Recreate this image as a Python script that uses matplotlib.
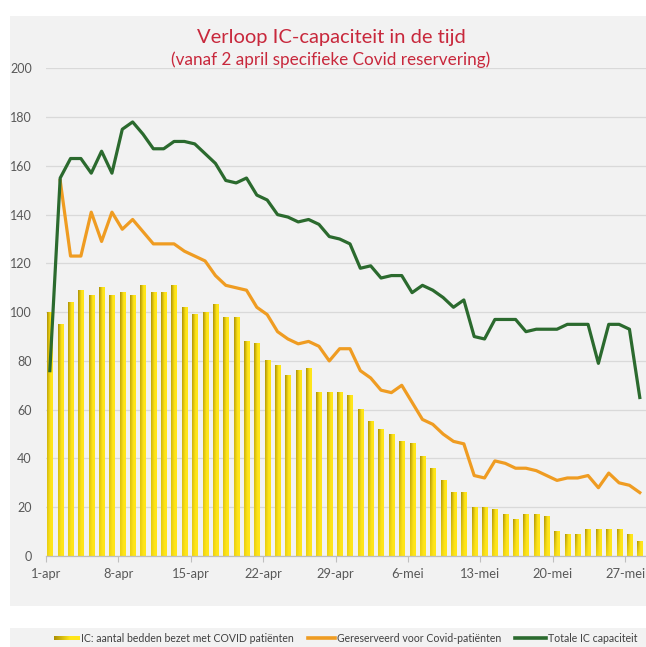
import numpy as np
import matplotlib
matplotlib.use('Agg')
import matplotlib.pyplot as plt
from matplotlib.patches import Rectangle
from matplotlib.lines import Line2D

plt.rcParams['font.family'] = ['Lato', 'DejaVu Sans']

# ---------------- data ----------------
bezet = [100, 95, 104, 109, 107, 110, 107, 108, 107, 111,
         108, 108, 111, 102, 99, 100, 103, 98, 98, 88,
         87, 80, 78, 74, 76, 77, 67, 67, 67, 66,
         60, 55, 52, 50, 47, 46, 41, 36, 31, 26,
         26, 20, 20, 19, 17, 15, 17, 17, 16, 10,
         9, 9, 11, 11, 11, 11, 9, 6]
gereserveerd = [np.nan, 154, 123, 123, 141, 129, 141, 134, 138, 133,
                128, 128, 128, 125, 123, 121, 115, 111, 110, 109,
                102, 99, 92, 89, 87, 88, 86, 80, 85, 85,
                76, 73, 68, 67, 70, 63, 56, 54, 50, 47,
                46, 33, 32, 39, 38, 36, 36, 35, 33, 31,
                32, 32, 33, 28, 34, 30, 29, 26]
totaal = [76, 155, 163, 163, 157, 166, 157, 175, 178, 173,
          167, 167, 170, 170, 169, 165, 161, 154, 153, 155,
          148, 146, 140, 139, 137, 138, 136, 131, 130, 128,
          118, 119, 114, 115, 115, 108, 111, 109, 106, 102,
          105, 90, 89, 97, 97, 97, 92, 93, 93, 93,
          95, 95, 95, 79, 95, 95, 93, 65]
tick_labels = ['1-apr', '8-apr', '15-apr', '22-apr', '29-apr',
               '6-mei', '13-mei', '20-mei', '27-mei']
y_ticks = [0, 20, 40, 60, 80, 100, 120, 140, 160, 180, 200]

title = 'Verloop IC-capaciteit in de tijd'
subtitle = '(vanaf 2 april specifieke Covid reservering)'
legend_labels = ['IC: aantal bedden bezet met COVID patiënten',
                 'Gereserveerd voor Covid-patiënten',
                 'Totale IC capaciteit']

# ---------------- styles ----------------
W, H = 646, 647
ORANGE = '#ef9c22'
GREEN = '#2b6a2e'
TITLE_C = '#c8283c'
TXT = '#595959'

def bar_gradient(nx=24, ny=64, vertical=True):
    dark = np.array([0.68, 0.57, 0.02])
    bright = np.array([1.00, 0.90, 0.10])
    xs = np.linspace(0, 1, nx)
    wx = np.clip(1 - xs * 1.6, 0, 1)  # left side darker
    if vertical:
        ys = np.linspace(1, 0.25, ny)[:, None]
    else:
        ys = np.ones((ny, 1))
    w = (wx[None, :] * ys)[..., None]
    return bright * (1 - w) + dark * w

fig = plt.figure(figsize=(W / 100, H / 100), dpi=100, facecolor='white')
# chart panel and legend panel backgrounds
fig.patches.append(Rectangle((10 / W, (H - 606) / H), (W - 10) / W, (606 - 16) / H,
                             transform=fig.transFigure, facecolor='#f2f2f2',
                             edgecolor='none', zorder=-10))
fig.patches.append(Rectangle((10 / W, 0), (W - 10) / W, (H - 628) / H,
                             transform=fig.transFigure, facecolor='#f2f2f2',
                             edgecolor='none', zorder=-10))

ax = fig.add_axes([45.7 / W, (H - 556) / H, (W - 45.7) / W, (556 - 68.3) / H])
ax.set_facecolor('none')
ax.set_zorder(1)

n = len(bezet)
x = np.arange(n) + 0.4

bars = ax.bar(x, bezet, width=0.5, color='none', edgecolor='none', zorder=2)
grad = bar_gradient()
for b in bars:
    ax.imshow(grad, extent=[b.get_x(), b.get_x() + b.get_width(), 0, b.get_height()],
              aspect='auto', interpolation='bilinear', zorder=2)

ax.plot(x, gereserveerd, color=ORANGE, lw=2.3, solid_joinstyle='round', zorder=3)
ax.plot(x, totaal, color=GREEN, lw=2.3, solid_joinstyle='round', zorder=4)

ax.set_xlim(0, n)
ax.set_ylim(0, 200)
ax.set_yticks(y_ticks)
ax.set_xticks(np.arange(len(tick_labels)) * 7)
ax.set_xticklabels(tick_labels)
ax.yaxis.grid(True, color='#d9d9d9', lw=0.9)
ax.set_axisbelow(True)
for s in ['left', 'right', 'top']:
    ax.spines[s].set_visible(False)
ax.spines['bottom'].set_color('#bfbfbf')
ax.spines['bottom'].set_linewidth(0.9)
ax.tick_params(axis='y', length=0, pad=10, labelsize=9, labelcolor=TXT)
ax.tick_params(axis='x', length=4, color='#bfbfbf', pad=5, labelsize=9.3, labelcolor=TXT)

fig.text(331 / W, 1 - 37 / H, title, ha='center', va='center', fontsize=14.5, color=TITLE_C)
fig.text(331 / W, 1 - 60 / H, subtitle, ha='center', va='center', fontsize=12.3, color=TITLE_C)

# ---------------- legend ----------------
ly = 1 - 638 / H
lax = fig.add_axes([54 / W, ly - 2.5 / H, 25 / W, 5 / H])
lax.set_zorder(1)
lax.imshow(bar_gradient(nx=24, ny=4, vertical=False), aspect='auto', interpolation='bilinear')
lax.axis('off')
fig.lines.append(Line2D([308 / W, 335 / W], [ly, ly], transform=fig.transFigure,
                        color=ORANGE, lw=2.6))
fig.lines.append(Line2D([515 / W, 546 / W], [ly, ly], transform=fig.transFigure,
                        color=GREEN, lw=2.6))
for xx, lab in zip([81, 337, 548], legend_labels):
    fig.text(xx / W, ly, lab, ha='left', va='center', fontsize=7.6, color='#404040')

fig.savefig('out.png', dpi=100, facecolor='white')
